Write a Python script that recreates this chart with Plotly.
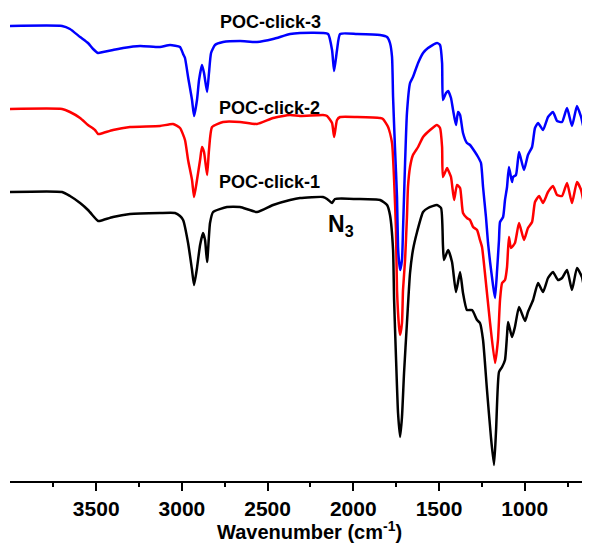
import plotly.graph_objects as go

# FTIR spectra: wavenumber (cm-1) and transmittance (a.u., offset stacked)
wn_click3 = [4003, 3699, 3653, 3594, 3548, 3518, 3489, 3460, 3402, 3343, 3244, 3128, 3069, 3011, 2993, 2982,
             2964, 2941, 2929, 2912, 2900, 2883, 2871, 2853, 2842, 2830, 2807, 2760, 2661, 2562, 2468, 2369,
             2311, 2177, 2147, 2124, 2112, 2095, 2077, 1978, 1844, 1803, 1786, 1774, 1768, 1757, 1745, 1739,
             1733, 1727, 1716, 1710, 1698, 1687, 1669, 1652, 1622, 1593, 1564, 1512, 1494, 1482, 1477, 1459,
             1447, 1430, 1418, 1401, 1389, 1377, 1360, 1337, 1319, 1290, 1272, 1255, 1243, 1226, 1214, 1202,
             1185, 1173, 1161, 1150, 1144, 1126, 1115, 1103, 1092, 1074, 1068, 1051, 1033, 1004, 981, 957,
             940, 922, 893, 864, 835, 811, 782, 753, 724, 695, 671, 648, 631, 619]
t_click3 = [455, 455, 452, 444, 438, 432, 428, 429, 431, 433, 435, 434, 436, 434, 427, 423,
            404, 381, 365, 381, 401, 416, 408, 389, 408, 428, 436, 439, 440, 439, 442, 447,
            448, 448, 447, 431, 410, 431, 447, 447, 446, 444, 438, 424, 384, 334, 284, 234,
            219, 211, 221, 251, 318, 368, 398, 404, 418, 428, 433, 438, 436, 418, 381, 388,
            390, 383, 371, 356, 369, 366, 348, 338, 336, 329, 324, 318, 294, 264, 238, 219,
            196, 183, 211, 241, 259, 264, 281, 294, 314, 299, 304, 306, 329, 311, 326, 334,
            353, 358, 351, 364, 369, 360, 359, 373, 355, 375, 364, 348, 344, 338]

wn_click2 = [4003, 3699, 3653, 3594, 3548, 3507, 3489, 3460, 3402, 3303, 3128, 3052, 3011, 2982, 2964, 2941,
             2929, 2912, 2894, 2883, 2871, 2853, 2842, 2824, 2760, 2661, 2562, 2468, 2369, 2311, 2177, 2153,
             2124, 2112, 2095, 2077, 1978, 1844, 1827, 1797, 1774, 1762, 1751, 1745, 1733, 1727, 1716, 1710,
             1698, 1687, 1681, 1669, 1652, 1622, 1593, 1552, 1512, 1494, 1482, 1477, 1453, 1447, 1430, 1412,
             1395, 1377, 1360, 1337, 1319, 1301, 1278, 1261, 1249, 1232, 1202, 1173, 1156, 1144, 1132, 1115,
             1103, 1092, 1080, 1057, 1033, 1004, 981, 957, 940, 916, 893, 864, 835, 811, 782, 753,
             724, 695, 671, 648, 631, 619]
t_click2 = [372, 372, 369, 363, 356, 351, 347, 348, 351, 354, 355, 357, 353, 341, 321, 301,
            284, 301, 321, 334, 329, 306, 331, 354, 359, 359, 357, 363, 366, 365, 366, 365,
            358, 344, 361, 364, 364, 363, 362, 354, 338, 301, 251, 191, 154, 146, 158, 191,
            221, 264, 294, 314, 326, 334, 344, 351, 356, 353, 334, 304, 313, 311, 304, 281,
            296, 293, 268, 263, 261, 254, 251, 241, 234, 208, 158, 118, 141, 181, 198, 201,
            214, 244, 233, 238, 258, 241, 253, 259, 279, 285, 278, 289, 295, 286, 285, 298,
            278, 299, 291, 273, 269, 261]

wn_click1 = [4003, 3699, 3653, 3594, 3548, 3507, 3489, 3460, 3402, 3303, 3128, 3040, 3011, 2993, 2964, 2941,
             2929, 2912, 2894, 2877, 2865, 2853, 2836, 2818, 2737, 2661, 2562, 2468, 2369, 2311, 2177, 2153,
             2124, 2107, 1978, 1844, 1803, 1786, 1768, 1762, 1751, 1739, 1727, 1716, 1704, 1687, 1669, 1652,
             1628, 1593, 1564, 1512, 1488, 1477, 1471, 1447, 1424, 1401, 1377, 1360, 1337, 1307, 1278, 1261,
             1243, 1220, 1197, 1179, 1167, 1150, 1132, 1115, 1103, 1097, 1074, 1057, 1033, 998, 981, 951,
             922, 893, 864, 835, 806, 782, 753, 724, 695, 666, 648, 631, 619]
t_click1 = [289, 289, 285, 278, 271, 263, 260, 261, 264, 267, 268, 268, 265, 261, 238, 211,
            196, 213, 236, 248, 241, 219, 258, 269, 274, 274, 269, 276, 281, 283, 284, 282,
            278, 282, 282, 281, 276, 266, 231, 181, 124, 68, 44, 64, 108, 158, 208, 231,
            249, 269, 273, 276, 273, 236, 221, 231, 219, 189, 209, 188, 171, 171, 161, 158,
            141, 91, 44, 16, 51, 109, 114, 121, 146, 159, 144, 154, 174, 160, 169, 181,
            198, 189, 203, 209, 201, 203, 211, 191, 213, 204, 188, 179, 171]

series = [
    ("POC-click-1", wn_click1, t_click1, "#000000"),
    ("POC-click-2", wn_click2, t_click2, "#ff0000"),
    ("POC-click-3", wn_click3, t_click3, "#0000ff"),
]

x_range = [4003, 619]
major_ticks = [3500, 3000, 2500, 2000, 1500, 1000]
minor_ticks = [3750, 3250, 2750, 2250, 1750, 1250, 750]

FONT = "Liberation Sans, Arial, sans-serif"

# page has an 8px body margin; figure is sized to fill the rest of the window
W, H = 582, 540
ML, MT, MB = 2, 0, 67
PH = H - MT - MB

fig = go.Figure()
for name, x, y, color in series:
    fig.add_trace(go.Scatter(x=x, y=y, mode="lines", name=name,
                             line=dict(color=color, width=2.5, shape="spline", smoothing=0.5)))

labels = [
    ("<b>POC-click-3</b>", 2789, 459.5),
    ("<b>POC-click-2</b>", 2795, 373),
    ("<b>POC-click-1</b>", 2795, 299),
]
for text, x, y in labels:
    fig.add_annotation(x=x, y=y, text=text, showarrow=False, xanchor="left", yanchor="middle",
                       font=dict(family=FONT, size=18, color="black"))

fig.add_annotation(x=2159, y=256, text="<b>N<sub>3</sub></b>", showarrow=False,
                   xanchor="left", yanchor="middle", font=dict(family=FONT, size=23, color="black"))

fig.add_annotation(xref="paper", yref="paper", x=(207 - ML) / (W - ML), y=(PH - 522) / PH,
                   text="<b>Wavenumber (cm<sup>-1</sup>)</b>", showarrow=False,
                   xanchor="left", yanchor="middle", font=dict(family=FONT, size=20, color="black"))

fig.update_layout(
    width=W, height=H,
    margin=dict(l=ML, r=0, t=MT, b=MB, autoexpand=False),
    paper_bgcolor="white", plot_bgcolor="white",
    showlegend=False,
)
fig.update_xaxes(range=x_range, autorange=False, showgrid=False, zeroline=False,
                 showline=True, linecolor="black", linewidth=2,
                 ticks="outside", ticklen=8, tickwidth=2, tickcolor="black",
                 tickvals=major_ticks, ticktext=[f"<b>{v}</b>" for v in major_ticks],
                 tickfont=dict(family=FONT, size=21, color="black"),
                 minor=dict(tickvals=minor_ticks,
                            ticks="outside", ticklen=4, tickwidth=2, tickcolor="black"))
fig.update_yaxes(range=[0, PH], autorange=False, visible=False)

fig.write_html("out.html")
